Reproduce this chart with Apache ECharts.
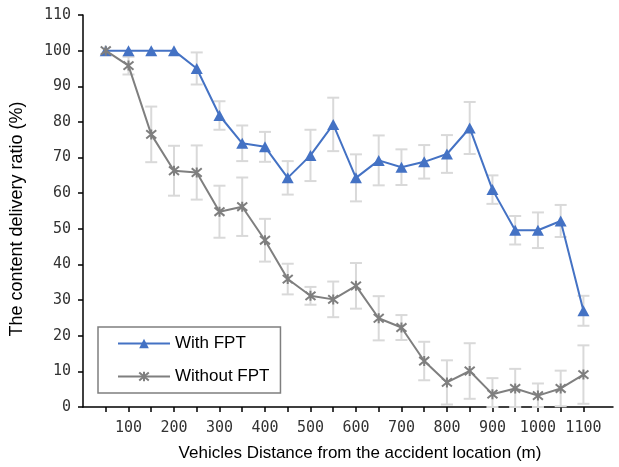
<!DOCTYPE html>
<html>
<head>
<meta charset="utf-8">
<script src="https://cdn.jsdelivr.net/npm/echarts@6/dist/echarts.min.js"></script>
<style>
  html, body { margin: 0; padding: 0; background: #fff; }
  #chart { width: 619px; height: 467px; }
</style>
</head>
<body>
<div id="chart"></div>
<script>
// distances (m)
var distances = [50, 100, 150, 200, 250, 300, 350, 400, 450, 500, 550,
  600, 650, 700, 750, 800, 850, 900, 950, 1000, 1050, 1100];
var xTickLabels = [100, 200, 300, 400, 500, 600, 700, 800, 900, 1000, 1100];

var withFpt = [100, 100, 100, 100, 95, 81.8, 74, 73, 64.3, 70.6, 79.3,
  64.3, 69.2, 67.3, 68.8, 71, 78.3, 61, 49.6, 49.6, 52.2, 27];
var withFptErr = [0, 0, 0, 0, 4.5, 4, 5, 4.2, 4.7, 7.2, 7.5,
  6.6, 7, 5, 4.7, 5.3, 7.3, 4, 4, 5, 4.5, 4.2];

var withoutFpt = [100, 95.8, 76.5, 66.3, 65.8, 54.8, 56.2, 46.8, 35.9, 31.2, 30.2,
  34, 24.9, 22.3, 12.9, 6.9, 10.1, 3.6, 5.2, 3.2, 5.2, 9.1];
var withoutFptErr = [0, 2.5, 7.8, 7, 7.6, 7.3, 8.2, 6, 4.3, 2.5, 5,
  6.4, 6.2, 3.5, 5.4, 6.2, 7.8, 4.5, 5.5, 3.4, 5, 8.2];

var blue = '#4472c4';
var gray = '#7f7f7f';

function pairs(vals) {
  return distances.map(function (d, i) { return [d, vals[i]]; });
}
function errData(vals, errs) {
  return distances.map(function (d, i) { return [d, vals[i], errs[i]]; })
    .filter(function (r) { return r[2] > 0; });
}

function renderErr(params, api) {
  var x = api.value(0), y = api.value(1), e = api.value(2);
  var top = api.coord([x, y + e]);
  var bot = api.coord([x, Math.max(0, y - e)]);
  var hw = 6;
  var st = { stroke: '#d9d9d9', lineWidth: 2 };
  return {
    type: 'group',
    children: [
      { type: 'line', shape: { x1: top[0], y1: top[1], x2: bot[0], y2: bot[1] }, style: st },
      { type: 'line', shape: { x1: top[0] - hw, y1: top[1], x2: top[0] + hw, y2: top[1] }, style: st },
      { type: 'line', shape: { x1: bot[0] - hw, y1: bot[1], x2: bot[0] + hw, y2: bot[1] }, style: st }
    ]
  };
}

var chart = echarts.init(document.getElementById('chart'));
var option = {
  animation: false,
  backgroundColor: '#fff',
  grid: { left: 79, right: 6, top: 15, bottom: 57, containLabel: false },
  legend: {
    orient: 'vertical',
    left: 98,
    top: 327,
    padding: [8, 11, 8, 19],
    itemGap: 16,
    itemWidth: 52,
    itemHeight: 12,
    borderColor: '#7f7f7f',
    borderWidth: 1.5,
    textStyle: { fontFamily: 'Liberation Sans', fontSize: 17, color: '#000' },
    data: ['With FPT', 'Without FPT']
  },
  xAxis: {
    type: 'value',
    min: 0,
    max: 1165,
    interval: 50,
    name: 'Vehicles Distance from the accident location (m)',
    nameLocation: 'middle',
    nameGap: 38,
    nameTextStyle: { fontFamily: 'Liberation Sans', fontSize: 17, color: '#000', padding: [0, 0, 0, 24] },
    axisLine: { onZero: false, lineStyle: { color: '#000', width: 1.5 } },
    axisTick: { length: 5, lineStyle: { color: '#000', width: 1.5 }, customValues: distances },
    axisLabel: {
      customValues: xTickLabels,
      formatter: function (v) { return String(v); },
      margin: 14,
      fontFamily: 'DejaVu Sans Mono',
      fontSize: 15,
      color: '#333'
    },
    splitLine: { show: false }
  },
  yAxis: {
    type: 'value',
    min: 0,
    max: 110,
    interval: 10,
    name: 'The content delivery ratio (%)',
    nameLocation: 'middle',
    nameGap: 57,
    nameTextStyle: { fontFamily: 'Liberation Sans', fontSize: 18, color: '#000', padding: [0, 0, 0, -16] },
    axisLine: { show: true, lineStyle: { color: '#000', width: 1.5 } },
    axisTick: { show: true, length: 5, lineStyle: { color: '#000', width: 1.5 } },
    axisLabel: { margin: 12, fontFamily: 'DejaVu Sans Mono', fontSize: 15, color: '#333' },
    splitLine: { show: false }
  },
  series: [
    {
      type: 'custom',
      renderItem: renderErr,
      data: errData(withFpt, withFptErr),
      z: 1,
      silent: true
    },
    {
      type: 'custom',
      renderItem: renderErr,
      data: errData(withoutFpt, withoutFptErr),
      z: 1,
      silent: true
    },
    {
      name: 'With FPT',
      type: 'line',
      data: pairs(withFpt),
      symbol: 'triangle',
      symbolSize: [12, 11],
      z: 3,
      lineStyle: { color: blue, width: 2 },
      itemStyle: { color: blue }
    },
    {
      name: 'Without FPT',
      type: 'line',
      data: pairs(withoutFpt),
      symbol: 'path://M0,0L10,10M10,0L0,10M5,-1L5,11',
      symbolSize: 10,
      z: 4,
      lineStyle: { color: gray, width: 2 },
      itemStyle: { color: gray, borderColor: gray, borderWidth: 2 }
    }
  ]
};
chart.setOption(option);
</script>
</body>
</html>
